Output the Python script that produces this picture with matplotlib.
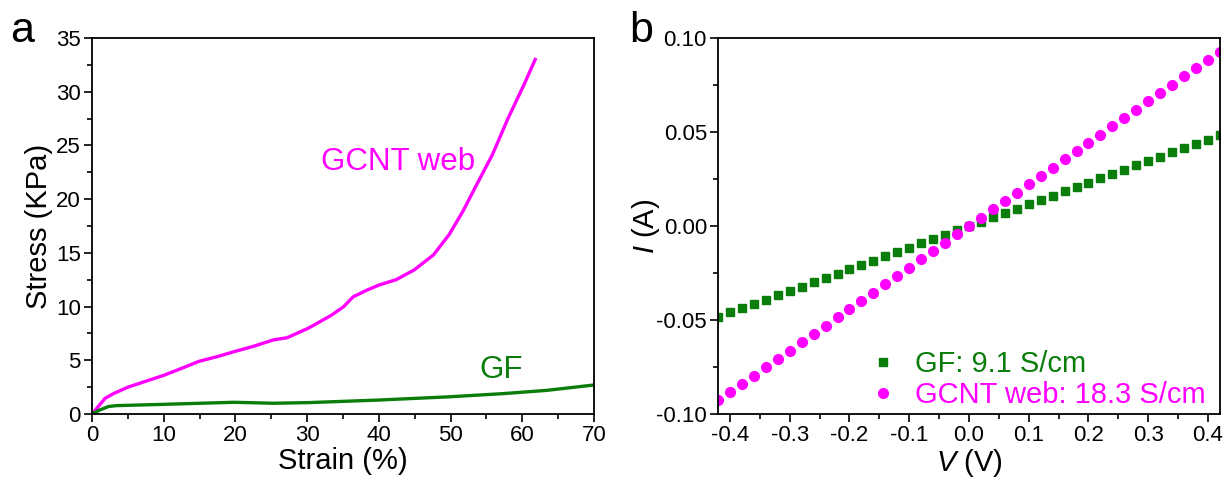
import matplotlib

matplotlib.use("Agg")
import matplotlib.pyplot as plt
from matplotlib.ticker import MultipleLocator

plt.rcParams["font.family"] = ["Liberation Sans", "DejaVu Sans"]
plt.rcParams["axes.unicode_minus"] = False
plt.rcParams["mathtext.fontset"] = "custom"
plt.rcParams["mathtext.rm"] = "Liberation Sans"
plt.rcParams["mathtext.it"] = "Liberation Sans:italic"

MAGENTA = "#FF00FF"
GREEN = "#0A7D0A"

# panel a: stress-strain
gcnt_strain = [0, 1.0, 1.8, 3.0, 5.0, 7.5, 10, 12.5, 14.9, 17.5, 19.8, 22.5, 25.3, 27.2,
               30.2, 33.4, 35.1, 36.4, 38.4, 40, 42.4, 44.9, 47.6, 49.8, 51.7, 53.6,
               55.8, 58.0, 60.2, 61.8]
gcnt_stress = [0, 0.8, 1.45, 1.9, 2.5, 3.05, 3.6, 4.25, 4.9, 5.35, 5.8, 6.3, 6.9, 7.1,
               8.0, 9.2, 10.0, 10.9, 11.55, 12.0, 12.5, 13.4, 14.8, 16.7, 18.85, 21.3,
               24.1, 27.5, 30.6, 33.0]
gf_strain = [0, 1.0, 2.3, 3.4, 10, 19.8, 25.3, 30.2, 40, 49.8, 57.4, 63.4, 70]
gf_stress = [0, 0.35, 0.7, 0.78, 0.9, 1.09, 1.0, 1.06, 1.3, 1.6, 1.9, 2.2, 2.7]

# panel b: I-V
voltage = [-0.42, -0.40, -0.38, -0.36, -0.34, -0.32, -0.30, -0.28, -0.26, -0.24, -0.22,
           -0.20, -0.18, -0.16, -0.14, -0.12, -0.10, -0.08, -0.06, -0.04, -0.02, 0.0,
           0.02, 0.04, 0.06, 0.08, 0.10, 0.12, 0.14, 0.16, 0.18, 0.20, 0.22, 0.24,
           0.26, 0.28, 0.30, 0.32, 0.34, 0.36, 0.38, 0.40, 0.42]
gf_current = [-0.0483, -0.0460, -0.0437, -0.0414, -0.0391, -0.0368, -0.0345, -0.0322,
              -0.0299, -0.0276, -0.0253, -0.0230, -0.0207, -0.0184, -0.0161, -0.0138,
              -0.0115, -0.0092, -0.0069, -0.0046, -0.0023, 0.0, 0.0023, 0.0046, 0.0069,
              0.0092, 0.0115, 0.0138, 0.0161, 0.0184, 0.0207, 0.0230, 0.0253, 0.0276,
              0.0299, 0.0322, 0.0345, 0.0368, 0.0391, 0.0414, 0.0437, 0.0460, 0.0483]
gcnt_current = [-0.0928, -0.0884, -0.0840, -0.0796, -0.0751, -0.0707, -0.0663, -0.0619,
                -0.0575, -0.0530, -0.0486, -0.0442, -0.0398, -0.0354, -0.0309, -0.0265,
                -0.0221, -0.0177, -0.0133, -0.0088, -0.0044, 0.0, 0.0044, 0.0088, 0.0133,
                0.0177, 0.0221, 0.0265, 0.0309, 0.0354, 0.0398, 0.0442, 0.0486, 0.0530,
                0.0575, 0.0619, 0.0663, 0.0707, 0.0751, 0.0796, 0.0840, 0.0884, 0.0928]

fig = plt.figure(figsize=(12.24, 4.79), dpi=100)
ax_a = fig.add_axes([0.0752, 0.1357, 0.4101, 0.785])
ax_b = fig.add_axes([0.5866, 0.1357, 0.4101, 0.785])


def style_axes(ax):
    for s in ax.spines.values():
        s.set_linewidth(1.3)
    ax.tick_params(which="both", direction="out", top=False, right=False, width=1.2,
                   labelsize=16, pad=2)
    ax.tick_params(which="major", length=6)
    ax.tick_params(which="minor", length=3.5)


ax_a.plot(gcnt_strain, gcnt_stress, color=MAGENTA, lw=2.4)
ax_a.plot(gf_strain, gf_stress, color=GREEN, lw=2.4)
ax_a.set_xlim(0, 70)
ax_a.set_ylim(0, 35)
ax_a.xaxis.set_major_locator(MultipleLocator(10))
ax_a.xaxis.set_minor_locator(MultipleLocator(5))
ax_a.yaxis.set_major_locator(MultipleLocator(5))
ax_a.yaxis.set_minor_locator(MultipleLocator(2.5))
style_axes(ax_a)
ax_a.set_xlabel("Strain (%)", fontsize=21, labelpad=1)
ax_a.set_ylabel("Stress (KPa)", fontsize=21, labelpad=2)
ax_a.text(42.7, 23.5, "GCNT web", color=MAGENTA, fontsize=22.5, ha="center", va="center")
ax_a.text(57.0, 4.1, "GF", color=GREEN, fontsize=22.5, ha="center", va="center")

ax_b.plot(voltage, gf_current, ls="none", marker="s", ms=6, color=GREEN,
          label="GF: 9.1 S/cm")
ax_b.plot(voltage, gcnt_current, ls="none", marker="o", ms=7, color=MAGENTA,
          label="GCNT web: 18.3 S/cm")
ax_b.set_xlim(-0.42, 0.42)
ax_b.set_ylim(-0.1, 0.1)
ax_b.xaxis.set_major_locator(MultipleLocator(0.1))
ax_b.xaxis.set_minor_locator(MultipleLocator(0.05))
ax_b.yaxis.set_major_locator(MultipleLocator(0.05))
ax_b.yaxis.set_minor_locator(MultipleLocator(0.025))
ax_b.xaxis.set_major_formatter(lambda v, p: f"{v:.1f}")
ax_b.yaxis.set_major_formatter(lambda v, p: f"{v:.2f}")
style_axes(ax_b)
ax_b.set_xlabel(r"$\mathit{V}$ (V)", fontsize=21, labelpad=1)
ax_b.set_ylabel(r"$\mathit{I}$ (A)", fontsize=21, labelpad=-4)
leg = ax_b.legend(loc="lower right", bbox_to_anchor=(1.0, -0.025), frameon=False,
                  fontsize=21, handletextpad=0.5, handlelength=1.2, borderaxespad=0.1,
                  labelspacing=0.1)
for txt, col in zip(leg.get_texts(), [GREEN, MAGENTA]):
    txt.set_color(col)

fig.text(0.008, 0.935, "a", fontsize=31, va="center")
fig.text(0.514, 0.935, "b", fontsize=31, va="center")

fig.savefig("out.png", dpi=100)
